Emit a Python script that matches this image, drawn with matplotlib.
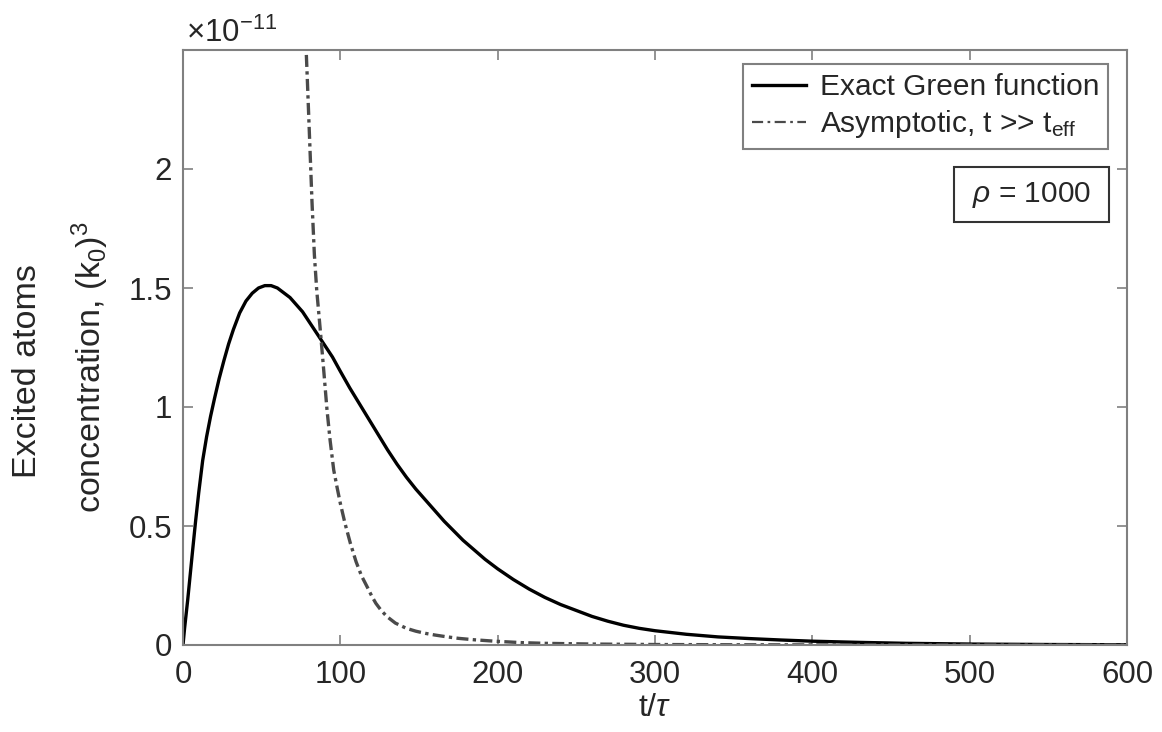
import matplotlib
matplotlib.use("Agg")
import matplotlib.pyplot as plt
from matplotlib.patches import Rectangle
from matplotlib.lines import Line2D

plt.rcParams['font.family'] = ['Liberation Sans', 'DejaVu Sans']
plt.rcParams['mathtext.fontset'] = 'custom'
plt.rcParams['mathtext.rm'] = 'Liberation Sans'
plt.rcParams['mathtext.it'] = 'Liberation Sans:italic'
plt.rcParams['mathtext.bf'] = 'Liberation Sans:bold'

# ---- data (y in units of 1e-11) ----
t_exact = [0, 1, 2, 3, 4.5, 6, 8, 10, 12.5, 15, 17.5, 20, 23, 26, 29, 32, 36, 40, 44,
           48, 52, 56, 60, 64, 68, 72, 76, 80, 85, 90, 95, 100, 106, 112, 118, 124,
           130, 136, 142, 148, 154, 160, 166, 172, 178, 185, 192, 200, 210, 220, 230,
           240, 250, 260, 270, 280, 290, 300, 320, 340, 360, 380, 400, 430, 460, 500,
           550, 600]
y_exact = [0, 0.07, 0.13, 0.19, 0.29, 0.39, 0.52, 0.64, 0.775, 0.875, 0.96, 1.035,
           1.12, 1.195, 1.265, 1.325, 1.395, 1.445, 1.478, 1.50, 1.51, 1.51, 1.50,
           1.48, 1.46, 1.43, 1.40, 1.36, 1.31, 1.26, 1.21, 1.15, 1.08, 1.015, 0.95,
           0.885, 0.82, 0.76, 0.705, 0.655, 0.61, 0.565, 0.52, 0.48, 0.44, 0.40, 0.36,
           0.32, 0.275, 0.235, 0.20, 0.17, 0.145, 0.12, 0.10, 0.083, 0.07, 0.06,
           0.045, 0.034, 0.027, 0.021, 0.016, 0.011, 0.007, 0.004, 0.002, 0.001]

t_asym = [77.8, 79, 80.5, 82, 83.5, 85, 87.3, 89.5, 91.5, 93.5, 95.8, 98, 100, 103,
          106.4, 110, 113.5, 117, 120, 122.6, 126, 129.7, 135, 142, 148, 154, 160,
          167, 175, 185, 198, 215, 230, 260, 300, 350, 400, 500, 600]
y_asym = [2.58, 2.38, 2.12, 1.86, 1.64, 1.49, 1.32, 1.15, 0.99, 0.86, 0.735, 0.66,
          0.595, 0.51, 0.427, 0.35, 0.29, 0.245, 0.205, 0.175, 0.145, 0.119, 0.092,
          0.07, 0.058, 0.049, 0.042, 0.035, 0.028, 0.022, 0.016, 0.01, 0.007, 0.004,
          0.002, 0.001, 0.0005, 0.0002, 0.0]

x_ticks = [0, 100, 200, 300, 400, 500, 600]
y_ticks = [0, 0.5, 1, 1.5, 2]
y_tick_labels = ['0', '0.5', '1', '1.5', '2']
label_exact = 'Exact Green function'
label_asym = r'Asymptotic, t >> t$_{\mathrm{eff}}$'

W, H = 1162, 732
fig = plt.figure(figsize=(W / 100, H / 100), dpi=100)
ax = fig.add_axes([183 / W, (H - 645) / H, 944 / W, 595 / H])

spine_col = '#808080'
txt_col = '#262626'

ax.plot(t_exact, y_exact, color='black', lw=2.4, solid_capstyle='round',
        solid_joinstyle='round')
ax.plot(t_asym, y_asym, color='#4a4a4a', lw=2.4, linestyle=(0, (3.6, 1.3, 1.0, 1.3)))

ax.set_xlim(0, 600)
ax.set_ylim(0, 2.5)
ax.set_xticks(x_ticks)
ax.set_yticks(y_ticks)
ax.set_yticklabels(y_tick_labels)

for s in ax.spines.values():
    s.set_color(spine_col)
    s.set_linewidth(1.5)
ax.tick_params(direction='in', length=7, width=1.2, color=spine_col,
               top=True, right=True, labelsize=22.5, labelcolor=txt_col)
ax.tick_params(axis='x', pad=11)
ax.tick_params(axis='y', pad=8)

ax.set_xlabel(r't/$\tau$', fontsize=23, color=txt_col, labelpad=2)

fig.text(28 / W, 1 - 371 / H, 'Excited atoms', rotation=90, ha='center', va='center',
         fontsize=24.5, color=txt_col)
fig.text(90 / W, 1 - 367 / H, r'concentration, (k$_0$)$^3$', rotation=90, ha='center',
         va='center', fontsize=24.5, color=txt_col)

fig.text(186 / W, 1 - 42 / H, r'$\times$10$^{-11}$', ha='left', va='baseline',
         fontsize=22.5, color=txt_col)

handles = [Line2D([], [], color='black', lw=2.4),
           Line2D([], [], color='#4a4a4a', lw=1.6, linestyle=(0, (5, 2, 1.2, 2)))]
leg = ax.legend(handles, [label_exact, label_asym], loc='upper right',
                bbox_to_anchor=((1108 - 183) / 944, (645 - 64) / 595),
                borderaxespad=0, fontsize=21.5, handlelength=1.8, handletextpad=0.45,
                labelspacing=0.25, borderpad=0.3, fancybox=False, framealpha=1)
leg.get_frame().set_edgecolor(spine_col)
leg.get_frame().set_linewidth(1.5)
for tx in leg.get_texts():
    tx.set_color(txt_col)

x0 = (954 - 183) / 944
x1 = (1109 - 183) / 944
y0 = (645 - 222) / 595
y1 = (645 - 167) / 595
ax.add_patch(Rectangle((x0, y0), x1 - x0, y1 - y0, transform=ax.transAxes,
                       facecolor='white', edgecolor='#333333', lw=1.5, zorder=5))
ax.text((x0 + x1) / 2, (y0 + y1) / 2, r'$\rho$ = 1000', transform=ax.transAxes,
        ha='center', va='center', fontsize=21.5, color=txt_col, zorder=6)

fig.savefig('out.png', dpi=100)
